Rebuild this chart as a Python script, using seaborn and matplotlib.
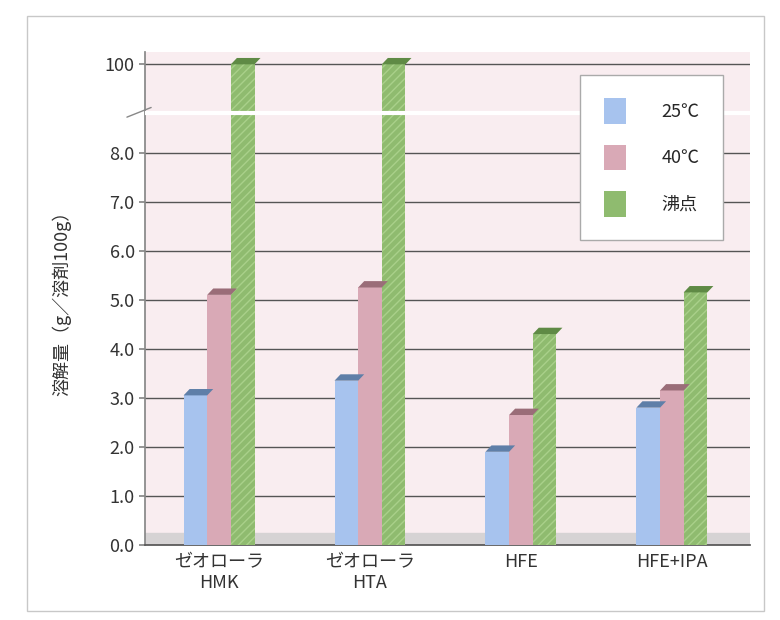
import numpy as np
import pandas as pd
import matplotlib
matplotlib.use("Agg")
import matplotlib.pyplot as plt
import seaborn as sns
from matplotlib.patches import Rectangle, Polygon

categories = ["ゼオローラ\nHMK", "ゼオローラ\nHTA", "HFE", "HFE+IPA"]
series = ["25℃", "40℃", "沸点"]
v25 = [3.05, 3.35, 1.9, 2.8]
v40 = [5.1, 5.25, 2.65, 3.15]
vbp = [100, 100, 4.3, 5.15]
ytick_vals = [0, 1, 2, 3, 4, 5, 6, 7, 8, 100]
ytick_labels = ["0.0", "1.0", "2.0", "3.0", "4.0", "5.0", "6.0", "7.0", "8.0", "100"]
colors = ["#a7c3ee", "#d9a9b6", "#8fbb6f"]
cap_colors = ["#5f7fa8", "#9a6d78", "#5f8a45"]

df = pd.DataFrame({
    "cat": categories * 3,
    "series": [s for s in series for _ in categories],
    "val": v25 + v40 + vbp,
})

sns.set_theme(style="white")
plt.rcParams["font.family"] = ["Noto Sans CJK JP", "DejaVu Sans"]

fig = plt.figure(figsize=(7.8, 6.2), dpi=100)
fig.patches.append(Rectangle((0.035, 0.015), 0.945, 0.96, transform=fig.transFigure,
                             fill=False, edgecolor="#c8c8c8", lw=1.0))
ax = fig.add_axes([0.186, 0.121, 0.776, 0.795])

B = 8.6
TOP = 9.8
def fwd(y):
    y = np.asarray(y, dtype=float)
    return np.where(y <= B, y, B + (y - B) / (100 - B) * (TOP - B))
def inv(s):
    s = np.asarray(s, dtype=float)
    return np.where(s <= B, s, B + (s - B) / (TOP - B) * (100 - B))
ax.set_yscale("function", functions=(fwd, inv))

ax.set_facecolor("#f9edf0")
sns.barplot(data=df, x="cat", y="val", hue="series", palette=colors, width=0.47,
            ax=ax, saturation=1, edgecolor="none", zorder=3)

# hatch on green bars
for p in ax.containers[2]:
    p.set_hatch("////")
    p.set_edgecolor("#a9d08a")
    p.set_linewidth(0)

# 3D-like caps on bars
for cont, cc in zip(ax.containers, cap_colors):
    for p in cont:
        x0 = p.get_x()
        w = p.get_width()
        h = p.get_height()
        hs = float(fwd(h))
        h2 = float(inv(hs + 0.13))
        dx = 0.04
        ax.add_patch(Polygon([(x0, h), (x0 + w, h), (x0 + w + dx, h2), (x0 + dx, h2)],
                             closed=True, facecolor=cc, edgecolor="none", zorder=4))

ax.set_xlim(-0.49, 3.52)
ax.set_ylim(0, 100 + (10.05 - TOP) / (TOP - B) * (100 - B))
ax.axhspan(0, 0.25, color="#d6d3d4", zorder=2)
ax.set_yticks(ytick_vals)
ax.set_yticklabels(ytick_labels, fontsize=13, color="#333333")
ax.tick_params(axis="x", labelsize=13, colors="#333333", length=0, pad=6)
ax.tick_params(axis="y", length=4, left=True, color="#888888")
for v in ytick_vals[1:]:
    ax.axhline(v, color="#555555", lw=1.0, zorder=1)
ax.set_xlabel("")
ax.set_ylabel("溶解量（g／溶剤100g）", fontsize=13, color="#333333", labelpad=24)

# break marks
brk = 25
ax.axhline(brk, color="white", lw=3, zorder=5)
ax.plot([-0.03, 0.01], [18, 33], transform=ax.get_yaxis_transform(), color="#888888",
        lw=1, clip_on=False, zorder=6)

for s in ["top", "right"]:
    ax.spines[s].set_visible(False)
ax.spines["left"].set_color("#888888")
ax.spines["bottom"].set_color("#555555")

leg = ax.legend(title=None, loc="upper right", bbox_to_anchor=(0.97, 0.972), frameon=True,
                fontsize=13, handlelength=1.2, handleheight=1.8, labelspacing=1.15,
                borderpad=1.3, handletextpad=2.0, fancybox=False)
leg.get_frame().set_edgecolor("#aaaaaa")
leg.get_frame().set_facecolor("white")
leg.get_frame().set_alpha(1)
leg.legend_handles[2].set_hatch("////")

fig.savefig("out.png", dpi=100)
